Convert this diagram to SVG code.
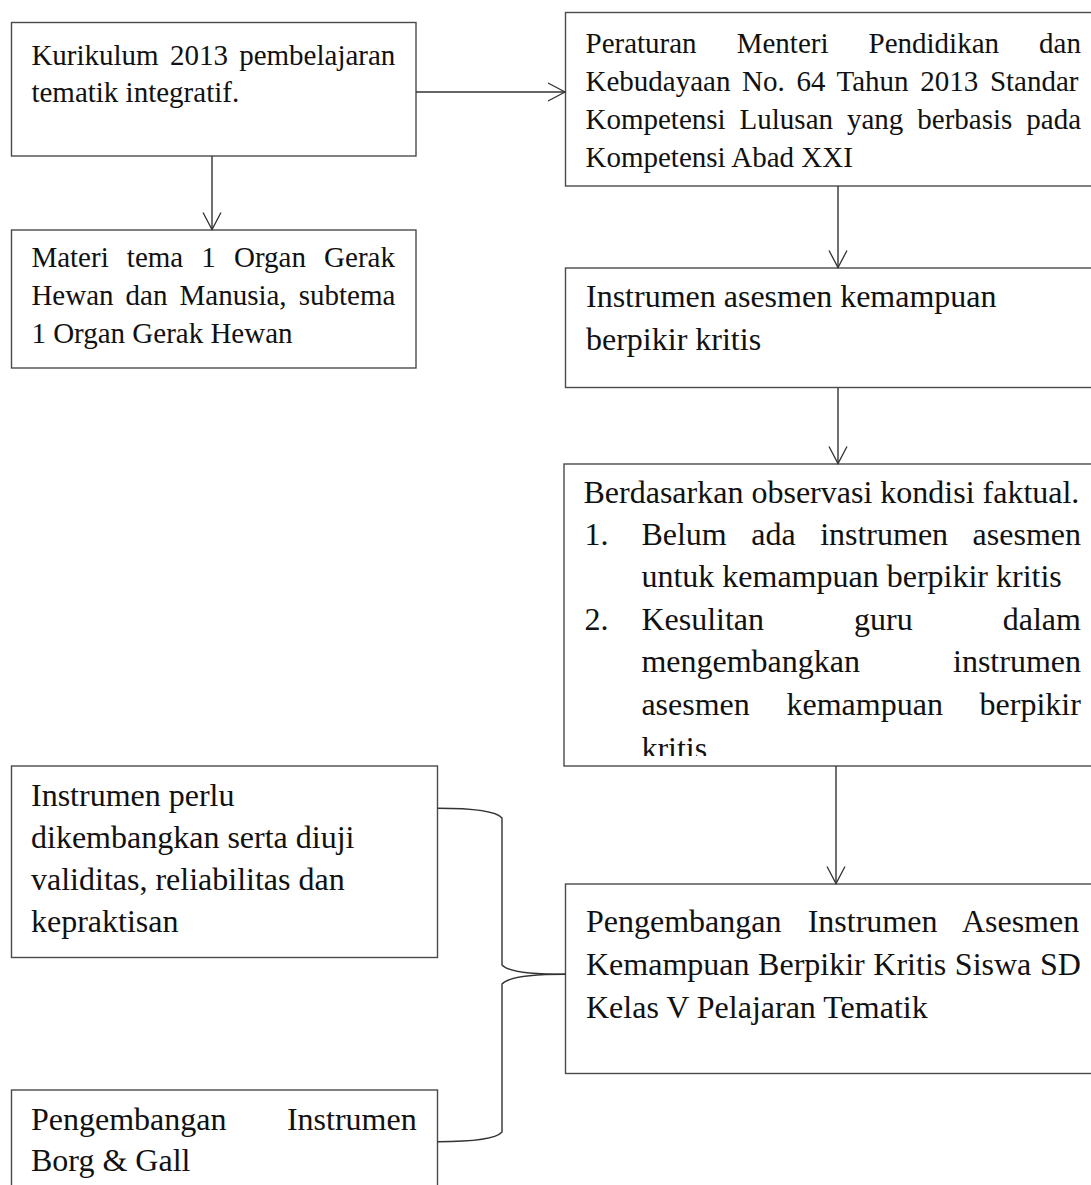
<svg xmlns="http://www.w3.org/2000/svg" width="1091" height="1185" viewBox="0 0 1091 1185">
<style>
.box{fill:#fff;stroke:#4a4a4a;stroke-width:1.4}
.t{font-family:"Liberation Serif","Times New Roman",serif;fill:#111}
.s29{font-size:29px}
.s32{font-size:32px}
.con{fill:none;stroke:#333;stroke-width:1.4}
</style>
<defs>
<marker id="arr" markerUnits="userSpaceOnUse" markerWidth="24" markerHeight="24" refX="17" refY="9" orient="auto" overflow="visible">
<path d="M0,0 L17,9 L0,18" fill="none" stroke="#333" stroke-width="1.3"/>
</marker>
<clipPath id="clipB"><rect x="560" y="460" width="540" height="296"/></clipPath>
</defs>
<rect width="1091" height="1185" fill="#fff"/>

<g id="kurikulum">
<rect class="box" x="11.5" y="22.5" width="404.5" height="133.5"/>
<text class="t s29" y="65"><tspan x="31.4" style="word-spacing:4px">Kurikulum 2013 pembelajaran</tspan><tspan x="31.4" y="102">tematik integratif.</tspan></text>
</g>

<g id="materi">
<rect class="box" x="11.5" y="230" width="404.5" height="138"/>
<text class="t s29"><tspan x="31.4" y="267" style="word-spacing:10.9px">Materi tema 1 Organ Gerak</tspan></text>
<text class="t s29"><tspan x="31.4" y="305" style="word-spacing:4.8px">Hewan dan Manusia, subtema</tspan></text>
<text class="t s29"><tspan x="31.4" y="343">1 Organ Gerak Hewan</tspan></text>
</g>

<g id="peraturan">
<rect class="box" x="565.5" y="12.5" width="540" height="173.5"/>
<text class="t s29" x="585.5" y="53" style="word-spacing:32.8px">Peraturan Menteri Pendidikan dan</text>
<text class="t s29" x="585.5" y="91" style="word-spacing:4.4px">Kebudayaan No. 64 Tahun 2013 Standar</text>
<text class="t s29" x="585.5" y="129" style="word-spacing:6.7px">Kompetensi Lulusan yang berbasis pada</text>
<text class="t s29" x="585.5" y="167">Kompetensi Abad XXI</text>
</g>

<g id="instrumen-asesmen">
<rect class="box" x="565.5" y="268" width="540" height="119.5"/>
<text class="t s32" x="586" y="307">Instrumen asesmen kemampuan</text>
<text class="t s32" x="586" y="350">berpikir kritis</text>
</g>

<g id="berdasarkan">
<rect class="box" x="564" y="464" width="540" height="302"/>
<g clip-path="url(#clipB)">
<text class="t s32" x="583.5" y="503">Berdasarkan observasi kondisi faktual.</text>
<text class="t s32" x="584.5" y="545">1.</text>
<text class="t s32" x="641.4" y="545" style="word-spacing:16.5px">Belum ada instrumen asesmen</text>
<text class="t s32" x="641.4" y="587">untuk kemampuan berpikir kritis</text>
<text class="t s32" x="584.5" y="630">2.</text>
<text class="t s32" x="641.4" y="630" style="word-spacing:82px">Kesulitan guru dalam</text>
<text class="t s32" x="641.4" y="672" style="word-spacing:85px">mengembangkan instrumen</text>
<text class="t s32" x="641.4" y="715" style="word-spacing:28.7px">asesmen kemampuan berpikir</text>
<text class="t s32" x="641.4" y="759">kritis</text>
</g>
</g>

<g id="pengembangan">
<rect class="box" x="565.5" y="884" width="540" height="189.5"/>
<text class="t s32" x="586" y="932" style="word-spacing:18.2px">Pengembangan Instrumen Asesmen</text>
<text class="t s32" x="586" y="975" style="word-spacing:0.6px">Kemampuan Berpikir Kritis Siswa SD</text>
<text class="t s32" x="586" y="1018">Kelas V Pelajaran Tematik</text>
</g>

<g id="instrumen-perlu">
<rect class="box" x="11.5" y="766" width="426" height="191.5"/>
<text class="t s32" x="31" y="806">Instrumen perlu</text>
<text class="t s32" x="31" y="848">dikembangkan serta diuji</text>
<text class="t s32" x="31" y="890">validitas, reliabilitas dan</text>
<text class="t s32" x="31" y="932">kepraktisan</text>
</g>

<g id="borg-gall">
<rect class="box" x="11.5" y="1090" width="426" height="130"/>
<text class="t s32" x="31" y="1130" style="word-spacing:52.4px">Pengembangan Instrumen</text>
<text class="t s32" x="31" y="1171">Borg &amp; Gall</text>
</g>

<g id="connectors">
<line class="con" x1="212" y1="156" x2="212" y2="229.5" marker-end="url(#arr)"/>
<line class="con" x1="416" y1="92" x2="565" y2="92" marker-end="url(#arr)"/>
<line class="con" x1="838" y1="186" x2="838" y2="267.5" marker-end="url(#arr)"/>
<line class="con" x1="838" y1="388" x2="838" y2="463.5" marker-end="url(#arr)"/>
<line class="con" x1="836" y1="766" x2="836" y2="883.5" marker-end="url(#arr)"/>
<path class="con" d="M437.7,808.3 C472,808.3 496,811 502,818 L502,965 C508,972 532,974.3 565.5,974.3"/>
<path class="con" d="M565.5,974.3 C532,974.3 508,977 502,984 L502,1132 C496,1139 472,1141.7 437.7,1141.7"/>
</g>
</svg>
